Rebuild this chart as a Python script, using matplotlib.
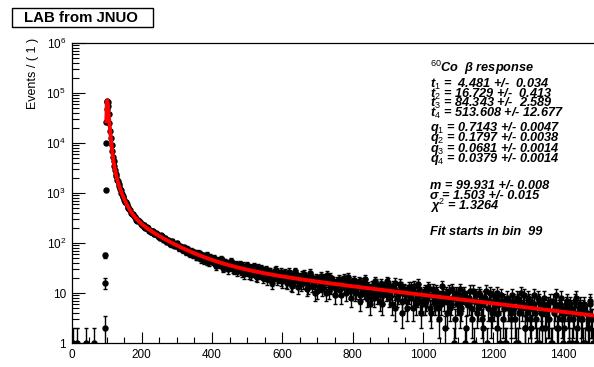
import math
import numpy as np
import matplotlib
matplotlib.use("Agg")
import matplotlib.pyplot as plt
import matplotlib.ticker as ticker
from matplotlib.patches import Rectangle

plt.rcParams['font.family'] = ['Liberation Sans', 'DejaVu Sans']
plt.rcParams['mathtext.fontset'] = 'custom'
plt.rcParams['mathtext.rm'] = 'Liberation Sans'
plt.rcParams['mathtext.it'] = 'Liberation Sans:italic'
plt.rcParams['mathtext.bf'] = 'Liberation Sans:bold'

# ---- histogram data (counts per bin) ----
# bins before the fit start: single counts and the rising edge
low_bins = [4, 15, 41, 65, 94, 95, 96, 97, 98]
low_counts = [1, 1, 1, 1, 2, 16, 57, 1150, 10000]

# peak region
peak_bins = [99, 100, 101, 102, 103, 104, 106, 108, 110, 112, 114, 116, 118, 120,
             122, 124, 126, 128, 130, 132, 134, 136, 138, 140, 142, 144, 146, 148, 150]
peak_counts = [25800, 48200, 66300, 70600, 65900, 55700, 37400, 25700, 17600, 12700,
               9080, 6950, 5260, 4270, 3410, 2920, 2430, 2170, 1860, 1700,
               1480, 1390, 1210, 1150, 1010, 970, 866, 834, 741]

# tail, every 5th bin from 155 to 1485
tail_bins = list(range(155, 1486, 5))
tail_counts = [
    648, 529, 482, 398, 381, 327, 291, 289, 262, 226,
    231, 203, 209, 181, 169, 175, 151, 160, 139, 131,
    142, 118, 127, 108, 114, 97, 109, 92, 88, 99,
    79, 86, 75, 82, 68, 77, 63, 70, 58, 66,
    54, 63, 61, 47, 57, 49, 58, 41, 52, 44,
    50, 37, 46, 39, 47, 33, 42, 40, 30, 38,
    44, 31, 36, 27, 35, 38, 26, 33, 29, 36,
    24, 31, 27, 34, 22, 29, 25, 31, 20, 27,
    30, 21, 26, 18, 25, 28, 19, 24, 26, 17,
    24, 17, 22, 26, 15, 21, 18, 24, 13, 20,
    23, 16, 19, 12, 21, 25, 14, 18, 20, 11,
    17, 22, 15, 19, 10, 16, 21, 13, 17, 9,
    15, 19, 12, 16, 20, 10, 14, 17, 8, 15,
    18, 11, 14, 7, 16, 12, 19, 10, 13, 6,
    14, 11, 17, 9, 12, 15, 6, 13, 10, 16,
    8, 12, 14, 5, 11, 9, 15, 7, 12, 10,
    5, 13, 8, 11, 14, 6, 10, 12, 4, 9,
    11, 7, 13, 5, 9, 12, 6, 10, 3, 8,
    14, 7, 9, 4, 11, 6, 8, 1, 10, 7,
    12, 5, 9, 1, 8, 6, 11, 3, 7, 9,
    4, 10, 6, 2, 8, 11, 5, 7, 3, 9,
    6, 10, 4, 1, 7, 5, 1, 8, 6, 3,
    9, 5, 1, 7, 4, 10, 6, 2, 5, 8,
    3, 6, 9, 4, 1, 7, 5, 2, 8, 4,
    6, 3, 1, 7, 5, 9, 2, 6, 4, 1,
    5, 7, 3, 6, 1, 4, 8, 2, 5, 3,
    1, 6, 4, 2, 7, 3, 1,
]

# tail, the bins in between (every 5th bin from 152 to 1482)
tail2_bins = list(range(152, 1483, 5))
tail2_counts = [
    671, 612, 497, 461, 389, 348, 329, 281, 276, 241,
    239, 212, 198, 201, 176, 166, 171, 149, 153, 135,
    128, 136, 115, 121, 106, 112, 94, 104, 90, 95,
    91, 80, 84, 72, 79, 66, 73, 61, 68, 60,
    58, 52, 62, 50, 56, 45, 55, 43, 50, 47,
    42, 48, 35, 44, 38, 45, 32, 41, 34, 39,
    33, 40, 29, 37, 30, 34, 28, 35, 24, 32,
    27, 33, 23, 30, 26, 21, 32, 24, 28, 22,
    26, 19, 27, 22, 16, 24, 29, 20, 23, 18,
    22, 25, 16, 20, 23, 14, 19, 27, 17, 21,
    15, 20, 24, 17, 13, 19, 22, 16, 10, 18,
    19, 14, 12, 20, 16, 23, 11, 15, 18, 13,
    12, 17, 14, 9, 18, 13, 16, 21, 11, 14,
    16, 10, 13, 17, 9, 14, 11, 15, 8, 12,
    10, 13, 8, 15, 11, 7, 14, 9, 12, 17,
    13, 9, 6, 12, 16, 8, 10, 13, 4, 11,
    7, 11, 9, 13, 5, 10, 8, 15, 7, 6,
    10, 6, 8, 12, 4, 9, 7, 11, 5, 8,
    6, 9, 2, 10, 7, 5, 12, 8, 3, 6,
    9, 4, 7, 10, 2, 6, 8, 5, 11, 1,
    7, 5, 9, 3, 6, 8, 1, 7, 10, 4,
    5, 8, 2, 6, 9, 3, 7, 1, 5, 6,
    4, 7, 3, 8, 1, 6, 5, 9, 2, 4,
    7, 2, 5, 6, 3, 8, 1, 4, 6, 2,
    5, 3, 7, 1, 4, 6, 2, 5, 8, 3,
    2, 6, 4, 1, 5, 3, 7, 1, 4, 6,
    3, 5, 1, 4, 2, 6, 3,
]

# ---- fit parameters (from the stats box) ----
fit_t = [4.481, 16.729, 84.343, 513.608]
fit_q = [0.7143, 0.1797, 0.0681, 0.0379]
fit_m = 99.931
fit_sigma = 1.503
fit_start = 99
n_events = 7.15e5

yticks = [1, 10, 1e2, 1e3, 1e4, 1e5, 1e6]
ytick_labels = ['1', '10', '$10^{2}$', '$10^{3}$', '$10^{4}$', '$10^{5}$', '$10^{6}$']

stat_lines = [
    ('$^{60}$Co  β response', 68),
    ('t$_{1}$ =  4.481 +/-  0.034', 84),
    ('t$_{2}$ = 16.729 +/-  0.413', 94),
    ('t$_{3}$ = 84.343 +/-  2.589', 103),
    ('t$_{4}$ = 513.608 +/- 12.677', 113),
    ('q$_{1}$ = 0.7143 +/- 0.0047', 128),
    ('q$_{2}$ = 0.1797 +/- 0.0038', 138),
    ('q$_{3}$ = 0.0681 +/- 0.0014', 149),
    ('q$_{4}$ = 0.0379 +/- 0.0014', 159),
    ('m = 99.931 +/- 0.008', 186),
    ('σ = 1.503 +/- 0.015', 196),
    ('χ$^{2}$ = 1.3264', 206),
    ('Fit starts in bin  99', 232),
]


def fit_model(x):
    # sum of exponentials convolved with a gaussian
    out = np.zeros_like(x)
    for q, t in zip(fit_q, fit_t):
        arg = (fit_sigma ** 2 / t - (x - fit_m)) / (fit_sigma * math.sqrt(2))
        erfc = np.array([math.erfc(a) for a in arg])
        out += q / (2 * t) * np.exp(fit_sigma ** 2 / (2 * t ** 2) - (x - fit_m) / t) * erfc
    return n_events * out


W, H = 594, 367
fig = plt.figure(figsize=(W / 100, H / 100), dpi=100)
ax = fig.add_axes([71.5 / W, (H - 343) / H, 527 / W, 300 / H])
ax.set_yscale('log')

bins = np.array(low_bins + peak_bins + tail_bins + tail2_bins, dtype=float)
counts = np.array(low_counts + peak_counts + tail_counts + tail2_counts, dtype=float)
ax.errorbar(bins, counts, yerr=np.sqrt(counts), fmt='o', ms=3.6, color='black',
            ecolor='black', elinewidth=1.0, capsize=1.4, capthick=1.0, zorder=2)

xf = np.linspace(fit_start, 1500, 3000)
ax.plot(xf, fit_model(xf), color='#ff0000', lw=2.8, zorder=3)

ax.set_xlim(0, 1500)
ax.set_ylim(1, 1e6)

ax.xaxis.set_major_locator(ticker.MultipleLocator(200))
ax.xaxis.set_minor_locator(ticker.MultipleLocator(50))
ax.set_yticks(yticks)
ax.set_yticklabels(ytick_labels)
ax.yaxis.set_minor_locator(ticker.LogLocator(base=10, subs=np.arange(2, 10), numticks=20))
ax.yaxis.set_minor_formatter(ticker.NullFormatter())

ax.tick_params(which='both', direction='in', top=False, right=False, labelsize=8.5, width=0.8)
ax.tick_params(axis='x', which='major', length=8, pad=4)
ax.tick_params(axis='x', which='minor', length=4)
ax.tick_params(axis='y', which='major', length=9, pad=4)
ax.tick_params(axis='y', which='minor', length=5)
for s in ax.spines.values():
    s.set_linewidth(0.9)

# y axis title, top aligned like ROOT
fig.text(33 / W, 1 - 38 / H, 'Events / ( 1 )', rotation=90, ha='center', va='top',
         fontsize=9)

# title box
fig.patches.append(Rectangle((11.5 / W, 1 - 26.7 / H), 141 / W, 18.4 / H,
                             transform=fig.transFigure, facecolor='white',
                             edgecolor='black', lw=1))
fig.text(81 / W, 1 - 17.5 / H, 'LAB from JNUO', ha='center', va='center',
         fontsize=10.8, fontweight='bold')

# fit results
for txt, ypix in stat_lines:
    fig.text(430 / W, 1 - ypix / H, txt, ha='left', va='center', fontsize=9.2,
             fontweight='bold', style='italic')

fig.savefig('out.png', dpi=100)
